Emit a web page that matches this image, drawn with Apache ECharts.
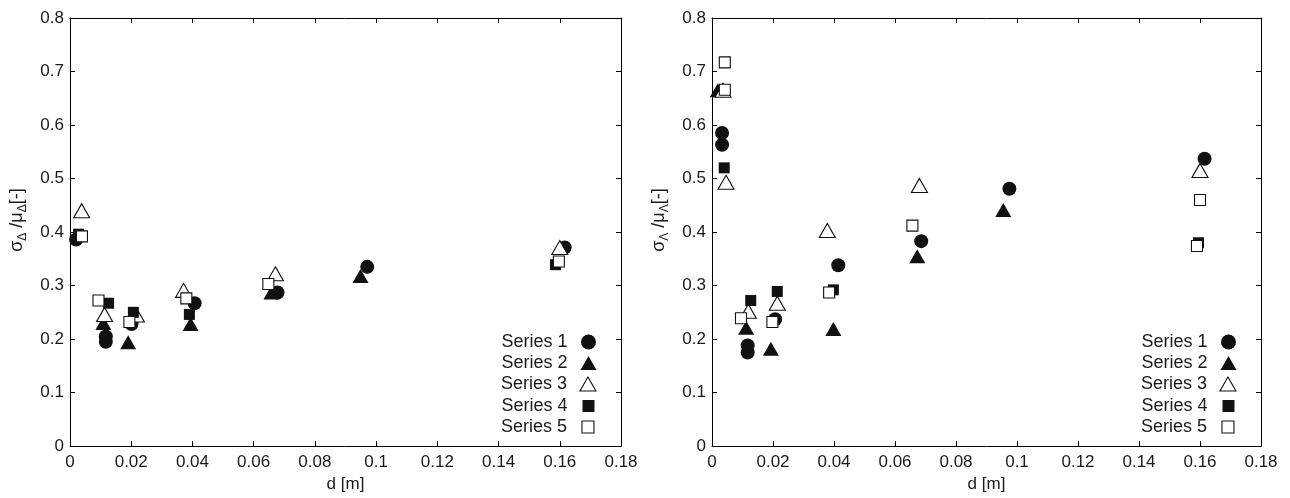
<!DOCTYPE html>
<html><head><meta charset="utf-8">
<script src="https://cdn.jsdelivr.net/npm/echarts@6/dist/echarts.min.js"></script>
<style>html,body{margin:0;padding:0;background:#fff}#c{width:1290px;height:498px}</style>
</head><body><div id="c"></div>
<script>
const seriesNames = ['Series 1','Series 2','Series 3','Series 4','Series 5'];
const xTickLabels = ['0','0.02','0.04','0.06','0.08','0.1','0.12','0.14','0.16','0.18'];
const yTickLabels = ['0','0.1','0.2','0.3','0.4','0.5','0.6','0.7','0.8'];
const xLabel = 'd [m]';
const yLabelSub = ['Δ', 'Λ'];

// left panel  [d, sigma/mu]
const leftS1 = [[0.0020,0.386],[0.0117,0.205],[0.0117,0.195],[0.0201,0.228],[0.0407,0.267],[0.0678,0.287],[0.0971,0.335],[0.1616,0.371]];
const leftS2 = [[0.0109,0.230],[0.0190,0.194],[0.0394,0.228],[0.0658,0.287],[0.0949,0.318]];
const leftS3 = [[0.0038,0.440],[0.0113,0.246],[0.0217,0.245],[0.0371,0.291],[0.0671,0.322],[0.1600,0.371]];
const leftS4 = [[0.0028,0.396],[0.0126,0.267],[0.0207,0.250],[0.0390,0.246],[0.1586,0.339]];
const leftS5 = [[0.0039,0.392],[0.0093,0.272],[0.0194,0.232],[0.0380,0.276],[0.0648,0.303],[0.1597,0.345]];
// right panel
const rightS1 = [[0.0033,0.585],[0.0033,0.563],[0.0117,0.188],[0.0117,0.175],[0.0207,0.237],[0.0414,0.338],[0.0686,0.383],[0.0975,0.481],[0.1615,0.537]];
const rightS2 = [[0.0019,0.665],[0.0112,0.221],[0.0193,0.182],[0.0398,0.219],[0.0673,0.355],[0.0955,0.441]];
const rightS3 = [[0.0036,0.665],[0.0046,0.493],[0.0119,0.252],[0.0214,0.267],[0.0378,0.403],[0.0680,0.487],[0.1600,0.515]];
const rightS4 = [[0.0040,0.520],[0.0127,0.272],[0.0214,0.289],[0.0398,0.292],[0.1595,0.380]];
const rightS5 = [[0.0042,0.717],[0.0042,0.666],[0.0095,0.239],[0.0198,0.232],[0.0384,0.287],[0.0657,0.412],[0.1600,0.460],[0.1590,0.374]];

const panels = [[leftS1,leftS2,leftS3,leftS4,leftS5],[rightS1,rightS2,rightS3,rightS4,rightS5]];

const FONT = '"Liberation Sans", Arial, sans-serif';
const TXT = '#1a1a1a';
const INK = '#111';
const grids = [
  {left:70, top:18, width:551, height:435},
  {left:712, top:18, width:549, height:435}
];
const styles = [
  {symbol:'circle',   size:14,      fill:INK,    legendW:15, legendH:15},
  {symbol:'triangle', size:[16,14], fill:INK,    legendW:16, legendH:14},
  {symbol:'triangle', size:[16,14], fill:'#fff', legendW:16, legendH:14},
  {symbol:'rect',     size:11,      fill:INK,    legendW:12, legendH:12},
  {symbol:'rect',     size:11,      fill:'#fff', legendW:12, legendH:12}
];
const legendRowY = [342, 363, 384, 406, 427];

const xAxes = [], yAxes = [], series = [], legends = [];
grids.forEach((g, gi) => {
  ['bottom','top'].forEach(pos => {
    xAxes.push({
      type:'value', gridIndex:gi, position:pos, min:0, max:0.18, interval:0.02,
      axisLine:{show:true, onZero:false, lineStyle:{color:'#000', width:1}},
      axisTick:{show:true, inside:true, length:5, lineStyle:{color:'#000'}},
      axisLabel:{show:pos==='bottom', color:TXT, fontSize:17, fontFamily:FONT, margin:8,
        formatter:v => xTickLabels[Math.round(v/0.02)]},
      splitLine:{show:false},
      name: pos==='bottom' ? xLabel : '', nameLocation:'middle', nameGap:27,
      nameTextStyle:{color:TXT, fontSize:17, fontFamily:FONT}
    });
  });
  ['left','right'].forEach(pos => {
    const sub = yLabelSub[gi];
    yAxes.push({
      type:'value', gridIndex:gi, position:pos, min:0, max:0.8, interval:0.1,
      axisLine:{show:true, onZero:false, lineStyle:{color:'#000', width:1}},
      axisTick:{show:true, inside:true, length:5, lineStyle:{color:'#000'}},
      axisLabel:{show:pos==='left', color:TXT, fontSize:17, fontFamily:FONT, margin:6,
        formatter:v => yTickLabels[Math.round(v/0.1)]},
      splitLine:{show:false},
      name: pos==='left' ? `{s|σ}{b|${sub}}{s| /μ}{b|${sub}}{s|[-]}` : '',
      nameLocation:'middle', nameRotate:90, nameGap:41,
      nameTextStyle:{color:TXT, fontFamily:FONT, padding:[0,0,0,24],
        rich:{
          s:{fontSize:18, fontFamily:FONT, color:TXT, lineHeight:24, verticalAlign:'middle'},
          b:{fontSize:12, fontFamily:FONT, color:TXT, lineHeight:12, verticalAlign:'bottom'}
        }}
    });
  });
  panels[gi].forEach((data, si) => {
    const st = styles[si];
    series.push({
      name: seriesNames[si], type:'scatter', xAxisIndex:gi*2, yAxisIndex:gi*2,
      data, symbol:st.symbol, symbolSize:st.size,
      itemStyle:{color:st.fill, borderColor:INK, borderWidth: st.fill==='#fff' ? 1.1 : 0, opacity:1},
      emphasis:{disabled:true}, animation:false
    });
  });
  const plotRight = g.left + g.width;
  const iconCx = plotRight - 32.5;
  seriesNames.forEach((nm, si) => {
    const st = styles[si];
    const iconLeft = iconCx - st.legendW/2;
    const textRight = iconCx - 21;
    legends.push({
      data:[{name:nm, icon:st.symbol, itemStyle:{color:st.fill, borderColor:INK, borderWidth: st.fill==='#fff'?1.1:0}}],
      orient:'vertical', align:'right', selectedMode:false, padding:0,
      right: 1290 - (iconCx + st.legendW/2), top: legendRowY[si] - 10,
      itemWidth: st.legendW, itemHeight: st.legendH,
      textStyle:{color:TXT, fontSize:18, fontFamily:FONT, lineHeight:20,
        padding:[0, Math.max(0, iconLeft - textRight - 5), 0, 0]}
    });
  });
});

const chart = echarts.init(document.getElementById('c'), null, {renderer:'canvas'});
chart.setOption({
  animation:false, backgroundColor:'#fff',
  grid: grids, xAxis: xAxes, yAxis: yAxes, series, legend: legends
});
</script></body></html>
